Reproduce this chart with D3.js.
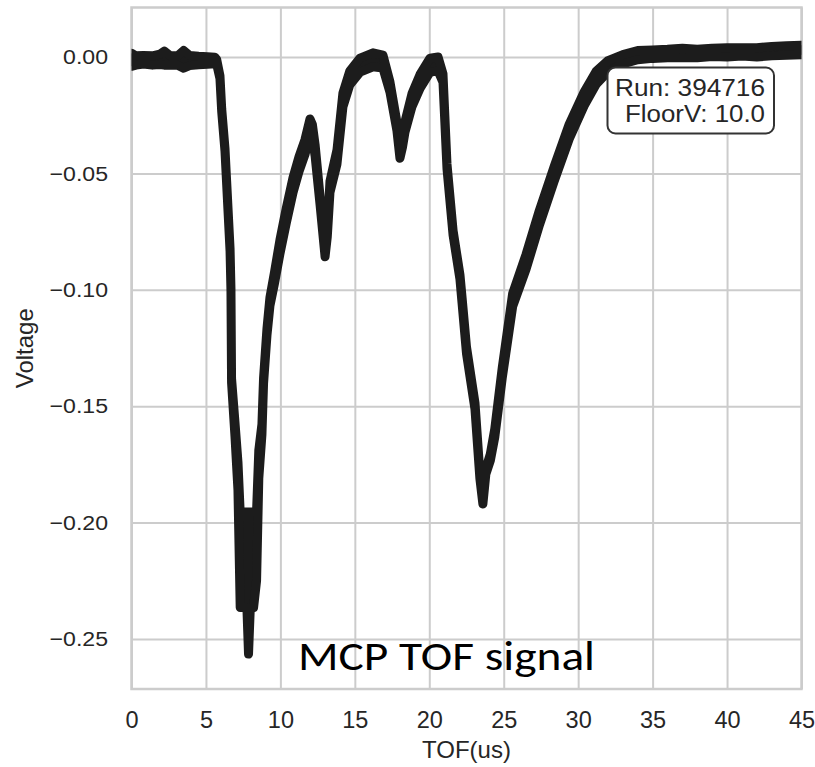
<!DOCTYPE html>
<html>
<head>
<meta charset="utf-8">
<script src="https://cdn.jsdelivr.net/npm/d3@7"></script>
<style>
  body { margin: 0; background: #fff; }
  svg { display: block; }
</style>
</head>
<body>
<div id="chart"></div>
<script>
// TOF trace: time (us), centre voltage, half-width of the noise band
const tof = [0.0, 0.3, 0.8, 1.4, 1.9, 2.2, 2.6, 3.1, 3.5, 3.9, 4.5, 5.1, 5.6, 5.72, 5.94, 6.06, 6.28, 6.39, 6.62, 6.68,
  6.72, 6.95, 7.15, 7.30, 7.55, 7.75, 7.86, 7.98, 8.20, 8.40, 8.55, 8.76, 8.87, 9.10, 9.30, 9.60, 9.97, 10.4,
  10.85, 11.25, 11.65, 11.99, 12.15, 12.33, 12.66, 13.00, 13.15, 13.33, 13.80, 14.20, 14.66, 15.35, 16.22, 16.89, 17.36, 17.83, 18.03, 18.20,
  18.37, 18.84, 19.38, 20.05, 20.59, 20.92, 21.19, 21.60, 22.06, 22.20, 22.50, 23.07, 23.40, 23.60, 23.80, 24.10, 24.40, 24.90, 25.60, 26.50,
  27.40, 28.40, 29.40, 30.40, 31.20, 32.00, 33.00, 34.00, 35.0, 36.0, 37.0, 38.0, 39.0, 40.0, 41.0, 42.0, 43.0, 44.0, 45.0];
const volt = [-0.0012, -0.0015, -0.0012, -0.0015, -0.0010, -0.0005, -0.0015, -0.0015, -0.0010, -0.0015, -0.0015, -0.0015, -0.0015, -0.0020, -0.0086, -0.0230, -0.0400, -0.0540, -0.0830, -0.1000,
  -0.1390, -0.1600, -0.1800, -0.2160, -0.2160, -0.2160, -0.2260, -0.2160, -0.2160, -0.2100, -0.1750, -0.1600, -0.1390, -0.1180, -0.1050, -0.0950, -0.0816, -0.0680,
  -0.0550, -0.0460, -0.0387, -0.0300, -0.0320, -0.0400, -0.0614, -0.0850, -0.0760, -0.0558, -0.0430, -0.0185, -0.0090, -0.0035, -0.0012, -0.0020, -0.0129, -0.0300, -0.0425, -0.0370,
  -0.0300, -0.0185, -0.0105, -0.0035, -0.0030, -0.0090, -0.0470, -0.0756, -0.0945, -0.1044, -0.1260, -0.1500, -0.1800, -0.1915, -0.1780, -0.1720, -0.1615, -0.1357, -0.1044, -0.0880,
  -0.0690, -0.0500, -0.0320, -0.0180, -0.0090, -0.0040, -0.0010, 0.0008, 0.0012, 0.0015, 0.0018, 0.0015, 0.0020, 0.0020, 0.0022, 0.0020, 0.0025, 0.0028, 0.0030];
const noise = [0.0028, 0.0020, 0.0018, 0.0020, 0.0022, 0.0030, 0.0020, 0.0020, 0.0038, 0.0022, 0.0018, 0.0016, 0.0014, 0.0010, 0.0006, 0.0006, 0.0006, 0.0006, 0.0006, 0.0006,
  0.0008, 0.0030, 0.0060, 0.0205, 0.0205, 0.0205, 0.0305, 0.0205, 0.0205, 0.0150, 0.0060, 0.0022, 0.0012, 0.0014, 0.0018, 0.0024, 0.0030, 0.0032,
  0.0032, 0.0032, 0.0032, 0.0034, 0.0030, 0.0024, 0.0018, 0.0008, 0.0012, 0.0024, 0.0030, 0.0030, 0.0030, 0.0030, 0.0030, 0.0028, 0.0022, 0.0018, 0.0010, 0.0018,
  0.0022, 0.0028, 0.0030, 0.0030, 0.0030, 0.0018, 0.0010, 0.0010, 0.0010, 0.0012, 0.0014, 0.0014, 0.0012, 0.0005, 0.0012, 0.0014, 0.0018, 0.0022, 0.0028, 0.0032,
  0.0032, 0.0032, 0.0032, 0.0030, 0.0028, 0.0024, 0.0020, 0.0020, 0.0018, 0.0018, 0.0020, 0.0018, 0.0018, 0.0020, 0.0018, 0.0020, 0.0020, 0.0020, 0.0020];

const xTicks = [0, 5, 10, 15, 20, 25, 30, 35, 40, 45];
const yTicks = [0, -0.05, -0.10, -0.15, -0.20, -0.25];
const boxLines = ["Run: 394716", "FloorV: 10.0"];
const boxWidths = [150, 140];
const caption = "MCP TOF signal";

const W = 815, H = 767;
const plot = { left: 131.5, right: 801.5, top: 7.5, bottom: 689 };
const plotW = plot.right - plot.left;
const plotH = plot.bottom - plot.top;
const font = "'Liberation Sans', Arial, sans-serif";
const ink = "#262626";

const svg = d3.select("#chart")
    .append("svg")
    .attr("width", W)
    .attr("height", H);

const x = d3.scaleLinear().domain([0, 45]).range([plot.left, plot.right]);
const y = d3.scaleLinear().domain([-0.2715, 0.02126]).range([plot.bottom, plot.top]);

// grid + tick labels (seaborn whitegrid look)
const xAxis = svg.append("g")
    .attr("transform", "translate(0," + plot.bottom + ")")
    .call(d3.axisBottom(x).tickValues(xTicks).tickSize(-plotH).tickPadding(22).tickFormat(d3.format("d")));

const yAxis = svg.append("g")
    .attr("transform", "translate(" + plot.left + ",0)")
    .call(d3.axisLeft(y).tickValues(yTicks).tickSize(-plotW).tickPadding(23.5).tickFormat(d3.format(".2f")));

[xAxis, yAxis].forEach(g => {
    g.select(".domain").remove();
    g.selectAll(".tick line").attr("stroke", "#cccccc").attr("stroke-width", 2);
    g.selectAll(".tick text").attr("fill", ink).style("font-family", font);
});
xAxis.selectAll(".tick text").style("font-size", "23.5px");
yAxis.selectAll(".tick text")
    .style("font-size", "21px")
    .attr("transform", "translate(-23.5,0) scale(1.1,1) translate(23.5,0)");

// frame
svg.append("rect")
    .attr("x", plot.left).attr("y", plot.top)
    .attr("width", plotW).attr("height", plotH)
    .attr("fill", "none")
    .attr("stroke", "#cccccc")
    .attr("stroke-width", 2.5);

// trace: noisy band drawn as a filled + stroked area
svg.append("clipPath").attr("id", "clip")
    .append("rect")
    .attr("x", plot.left).attr("y", plot.top)
    .attr("width", plotW).attr("height", plotH);

const idx = d3.range(tof.length);
const band = d3.area()
    .x(i => x(tof[i]))
    .y0(i => y(volt[i] - noise[i]))
    .y1(i => y(volt[i] + noise[i]));

svg.append("path")
    .datum(idx)
    .attr("clip-path", "url(#clip)")
    .attr("d", band)
    .attr("fill", "#1c1c1c")
    .attr("stroke", "#1c1c1c")
    .attr("stroke-width", 9)
    .attr("stroke-linejoin", "round");

// axis labels
svg.append("text")
    .attr("x", (plot.left + plot.right) / 2)
    .attr("y", 758)
    .attr("text-anchor", "middle")
    .attr("fill", ink)
    .style("font-family", font)
    .style("font-size", "24px")
    .text("TOF(us)");

svg.append("text")
    .attr("transform", "translate(33," + (plot.top + plot.bottom) / 2 + ") rotate(-90)")
    .attr("text-anchor", "middle")
    .attr("fill", ink)
    .style("font-family", font)
    .style("font-size", "24px")
    .text("Voltage");

// run info box
svg.append("rect")
    .attr("x", 607.5).attr("y", 67.5)
    .attr("width", 166.5).attr("height", 66)
    .attr("rx", 8)
    .attr("fill", "#ffffff")
    .attr("stroke", "#333333")
    .attr("stroke-width", 2);

svg.selectAll(".boxline")
    .data(boxLines)
    .enter().append("text")
    .attr("class", "boxline")
    .attr("x", 765)
    .attr("y", (d, i) => 95.5 + i * 26.5)
    .attr("text-anchor", "end")
    .attr("textLength", (d, i) => boxWidths[i])
    .attr("lengthAdjust", "spacingAndGlyphs")
    .attr("fill", ink)
    .style("font-family", font)
    .style("font-size", "23.5px")
    .text(d => d);

// slide caption
svg.append("text")
    .attr("x", 298)
    .attr("y", 669.5)
    .attr("fill", "#000000")
    .attr("textLength", 297)
    .attr("lengthAdjust", "spacingAndGlyphs")
    .style("font-family", "Carlito, Calibri, Lato, sans-serif")
    .style("font-size", "41px")
    .text(caption);
</script>
</body>
</html>
